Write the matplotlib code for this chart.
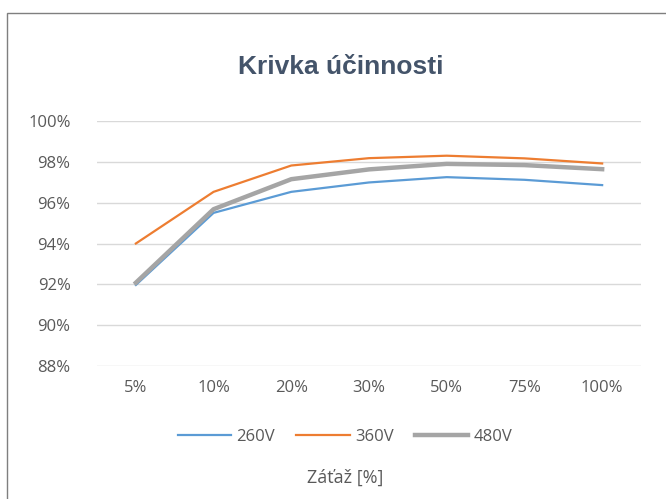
import matplotlib.pyplot as plt
from matplotlib.patches import Rectangle
from matplotlib.ticker import FuncFormatter

# data
categories = ['5%', '10%', '20%', '30%', '50%', '75%', '100%']
eff_260v = [91.97, 95.50, 96.53, 96.99, 97.25, 97.12, 96.86]
eff_360v = [94.00, 96.53, 97.82, 98.18, 98.30, 98.17, 97.92]
eff_480v = [92.08, 95.68, 97.15, 97.63, 97.90, 97.84, 97.64]
series_names = ['260V', '360V', '480V']
y_ticks = [88, 90, 92, 94, 96, 98, 100]

W, H = 666, 499
fig = plt.figure(figsize=(W / 100, H / 100), dpi=100)

# chart frame (cut off at right/bottom like the screenshot)
fig.patches.append(Rectangle((7 / W, -0.1), 1.2, 1 - 13 / H + 0.1,
                             transform=fig.transFigure, fill=False,
                             edgecolor='#7f7f7f', linewidth=1.0))

ax = fig.add_axes([97 / W, 1 - 366 / H, 544 / W, 245 / H])
x = list(range(len(categories)))
ax.plot(x, eff_260v, color='#5B9BD5', lw=1.6, label=series_names[0])
ax.plot(x, eff_360v, color='#ED7D31', lw=1.6, label=series_names[1])
ax.plot(x, eff_480v, color='#A5A5A5', lw=3.2, label=series_names[2])

ax.set_xlim(-0.5, len(categories) - 0.5)
ax.set_ylim(88, 100)
ax.set_yticks(y_ticks)
ax.yaxis.set_major_formatter(FuncFormatter(lambda v, p: f'{v:.0f}%'))
ax.set_xticks(x)
ax.set_xticklabels(categories)
ax.grid(axis='y', color='#d9d9d9', lw=1.0)
ax.set_axisbelow(True)
for s in ax.spines.values():
    s.set_visible(False)
ax.tick_params(length=0, colors='#595959', labelsize=12, pad=10)
for lab in ax.get_xticklabels() + ax.get_yticklabels():
    lab.set_family('Open Sans')
ax.tick_params(axis='y', pad=19)

fig.text(341 / W, 1 - 67 / H, 'Krivka účinnosti', ha='center', va='center',
         fontsize=19, fontweight='bold', color='#44546A',
         family='Liberation Sans')

leg = ax.legend(loc='center', bbox_to_anchor=(345 / W, 1 - 437 / H),
                bbox_transform=fig.transFigure, ncol=3, frameon=False,
                handlelength=3.2, handletextpad=0.3, columnspacing=1.3,
                prop={'family': 'Open Sans', 'size': 12})
for t in leg.get_texts():
    t.set_color('#595959')

fig.text(345 / W, 1 - 478 / H, 'Záťaž [%]', ha='center', va='center',
         fontsize=13, color='#595959', family='Open Sans')

plt.savefig('out.png', dpi=100)
